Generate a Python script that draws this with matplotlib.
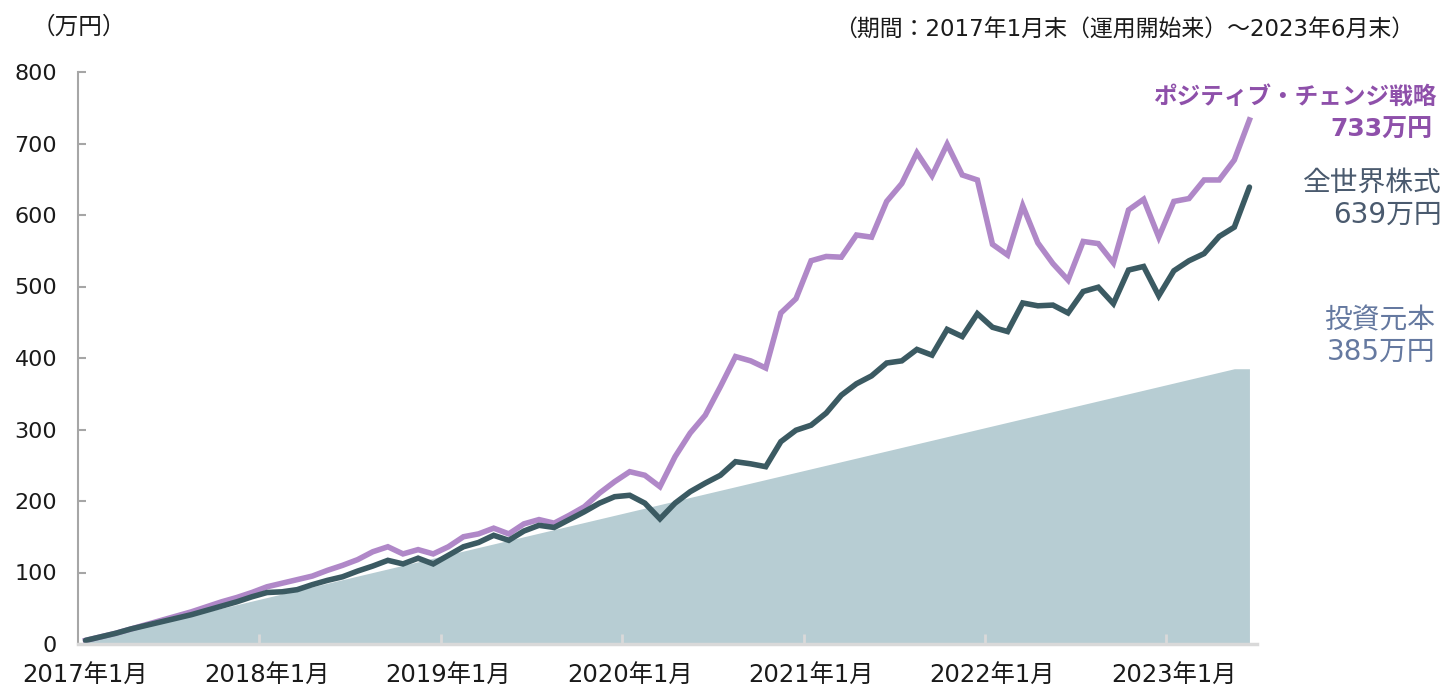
import matplotlib
matplotlib.use("Agg")
import matplotlib.pyplot as plt
from matplotlib.ticker import FixedLocator

# 数字はDejaVu、漢字・かなはNoto CJKで
plt.rcParams['font.family'] = ['DejaVu Sans', 'Noto Sans CJK JP']

# 月末の評価額（万円）2017年1月〜2023年6月
positive_change = [5, 10, 15, 21, 27, 33, 39, 45, 52, 59, 65, 72,
                   80, 85, 90, 95, 103, 110, 118, 129, 136, 126, 132, 126,
                   136, 150, 154, 162, 154, 168, 174, 169, 180, 192, 211, 227,
                   241, 236, 220, 262, 295, 320, 360, 402, 396, 386, 463, 483,
                   536, 542, 541, 572, 569, 619, 644, 687, 655, 699, 656, 649,
                   559, 544, 613, 561, 532, 509, 563, 560, 533, 607, 622, 569,
                   619, 623, 649, 649, 677, 733]
world_stock = [5, 10, 15, 21, 26, 31, 36, 41, 47, 53, 59, 66,
               72, 73, 76, 83, 89, 94, 102, 109, 117, 112, 120, 112,
               124, 136, 142, 152, 145, 158, 166, 163, 174, 185, 197, 206,
               208, 197, 175, 197, 213, 225, 236, 255, 252, 248, 283, 299,
               306, 323, 348, 364, 375, 393, 396, 412, 404, 440, 430, 462,
               443, 437, 477, 473, 474, 463, 493, 499, 476, 523, 528, 487,
               522, 536, 546, 570, 583, 639]
principal = [5, 10, 15, 20, 25, 30, 35, 40, 45, 50, 55, 60,
             65, 70, 75, 80, 85, 90, 95, 100, 105, 110, 115, 120,
             125, 130, 135, 140, 145, 150, 155, 160, 165, 170, 175, 180,
             185, 190, 195, 200, 205, 210, 215, 220, 225, 230, 235, 240,
             245, 250, 255, 260, 265, 270, 275, 280, 285, 290, 295, 300,
             305, 310, 315, 320, 325, 330, 335, 340, 345, 350, 355, 360,
             365, 370, 375, 380, 385, 385]
year_labels = ["2017年1月", "2018年1月", "2019年1月", "2020年1月",
               "2021年1月", "2022年1月", "2023年1月"]
y_ticks = [0, 100, 200, 300, 400, 500, 600, 700, 800]

months = list(range(len(principal)))

fig = plt.figure(figsize=(14.45, 6.86), dpi=100)
ax = fig.add_axes([78 / 1445, 42 / 686, 1179 / 1445, 572 / 686])

ax.fill_between(months, principal, 0, color="#B7CDD3", lw=0, zorder=1)
ax.plot(months, positive_change, color="#B088C8", lw=4, zorder=3,
        solid_joinstyle="miter")
ax.plot(months, world_stock, color="#3B5A62", lw=4, zorder=4,
        solid_capstyle="round", solid_joinstyle="miter")

ax.set_xlim(-0.5, len(months) - 0.5)
ax.set_ylim(0, 800)

# 軸
for side in ["top", "right"]:
    ax.spines[side].set_visible(False)
ax.spines["left"].set_color("#A6A6A6")
ax.spines["left"].set_linewidth(1.5)
ax.spines["bottom"].set_color("#D9D9D9")
ax.spines["bottom"].set_linewidth(2.5)
ax.spines["bottom"].set_zorder(5)

ax.set_yticks(y_ticks)
ax.set_yticklabels([str(v) for v in y_ticks])
ax.tick_params(axis="y", direction="in", length=6, width=1.5, color="#A6A6A6",
               labelsize=16, pad=15, labelcolor="#1a1a1a")

ax.set_xticks([months[i] for i in range(0, len(months), 12)])
ax.set_xticklabels(year_labels)
ax.xaxis.set_minor_locator(FixedLocator([i - 0.5 for i in range(12, len(months), 12)]))
ax.tick_params(axis="x", which="major", length=0, labelsize=17.5, pad=14,
               labelcolor="#1a1a1a")
ax.tick_params(axis="x", which="minor", direction="in", length=7, width=2,
               color="#D9D9D9")

# 注記
fig.text(32 / 1445, 1 - 27 / 686, "（万円）", fontsize=17, color="#1a1a1a",
         va="center", ha="left")
fig.text(1414 / 1445, 1 - 30 / 686,
         "（期間：2017年1月末（運用開始来）～2023年6月末）",
         fontsize=16.5, color="#1a1a1a", va="center", ha="right")

fig.text(1436 / 1445, 1 - 97 / 686, "ポジティブ・チェンジ戦略", fontsize=17,
         fontweight="bold", color="#8E50AA", va="center", ha="right")
fig.text(1433 / 1445, 1 - 130 / 686, "733万円", fontsize=18,
         fontweight="bold", color="#8E50AA", va="center", ha="right")
fig.text(1442 / 1445, 1 - 183 / 686, "全世界株式", fontsize=20,
         color="#4A5A6E", va="center", ha="right")
fig.text(1442 / 1445, 1 - 215 / 686, "639万円", fontsize=20,
         color="#4A5A6E", va="center", ha="right")
fig.text(1435 / 1445, 1 - 320 / 686, "投資元本", fontsize=20,
         color="#6579A0", va="center", ha="right")
fig.text(1435 / 1445, 1 - 352 / 686, "385万円", fontsize=20,
         color="#6579A0", va="center", ha="right")

fig.savefig("out.png", dpi=100)
